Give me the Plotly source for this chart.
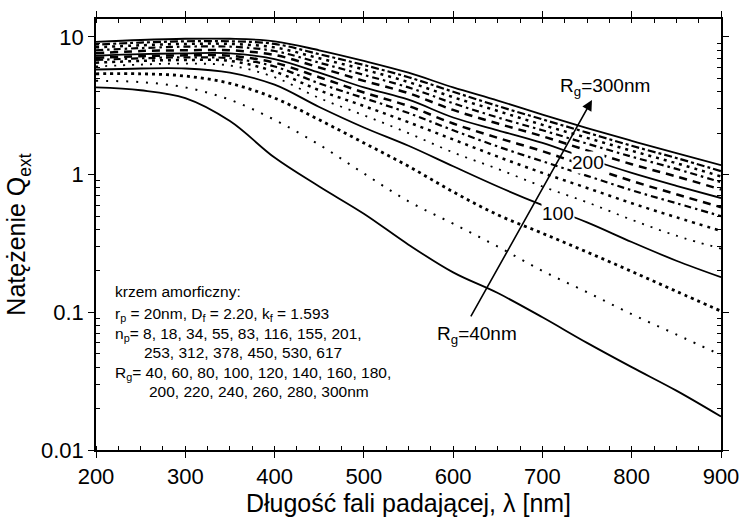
import math
import plotly.graph_objects as go

# Wavelength grid [nm]
wavelength = [200, 250, 300, 350, 400, 450, 500, 550, 600, 650, 700, 750, 800, 850, 900]

# Extinction efficiency Q_ext for aggregates of gyration radius R_g
q_rg040 = [4.3, 4.1, 3.6, 2.45, 1.33, 0.82, 0.52, 0.31, 0.195, 0.138, 0.092, 0.06, 0.04, 0.027, 0.0175]
q_rg060 = [4.8, 4.7, 4.3, 3.5, 2.5, 1.65, 1.02, 0.64, 0.44, 0.3, 0.2, 0.14, 0.097, 0.069, 0.049]
q_rg080 = [5.4, 5.4, 5.2, 4.6, 3.6, 2.5, 1.7, 1.15, 0.75, 0.51, 0.375, 0.274, 0.198, 0.142, 0.102]
q_rg100 = [5.8, 5.9, 5.9, 5.5, 4.5, 3.1, 2.2, 1.62, 1.15, 0.82, 0.6, 0.45, 0.324, 0.237, 0.18]
q_rg120 = [6.1, 6.3, 6.4, 6.2, 5.1, 3.6, 2.7, 2.0, 1.45, 1.1, 0.82, 0.63, 0.47, 0.36, 0.29]
q_rg140 = [6.5, 6.7, 6.8, 6.7, 5.6, 4.1, 3.15, 2.4, 1.8, 1.35, 1.03, 0.8, 0.62, 0.49, 0.39]
q_rg160 = [6.8, 7.0, 7.1, 7.0, 6.1, 4.6, 3.6, 2.8, 2.1, 1.6, 1.25, 0.98, 0.77, 0.62, 0.5]
q_rg180 = [7.05, 7.25, 7.35, 7.3, 6.5, 5.1, 3.95, 3.15, 2.35, 1.85, 1.48, 1.15, 0.9, 0.72, 0.58]
q_rg200 = [7.3, 7.5, 7.6, 7.6, 6.9, 5.5, 4.3, 3.5, 2.6, 2.1, 1.7, 1.31, 1.03, 0.83, 0.676]
q_rg220 = [7.6, 7.9, 8.0, 8.0, 7.4, 6.0, 4.8, 3.9, 2.95, 2.35, 1.9, 1.5, 1.19, 0.97, 0.78]
q_rg240 = [8.0, 8.3, 8.5, 8.5, 7.9, 6.5, 5.3, 4.3, 3.3, 2.6, 2.1, 1.68, 1.35, 1.1, 0.88]
q_rg260 = [8.4, 8.7, 8.9, 8.9, 8.4, 7.0, 5.8, 4.7, 3.65, 2.9, 2.3, 1.85, 1.49, 1.21, 0.97]
q_rg280 = [8.8, 9.1, 9.3, 9.3, 8.9, 7.5, 6.25, 5.1, 4.0, 3.15, 2.52, 2.02, 1.62, 1.32, 1.06]
q_rg300 = [9.2, 9.5, 9.7, 9.7, 9.3, 8.0, 6.7, 5.5, 4.3, 3.45, 2.73, 2.18, 1.76, 1.43, 1.17]

radii = [40, 60, 80, 100, 120, 140, 160, 180, 200, 220, 240, 260, 280, 300]
series = [q_rg040, q_rg060, q_rg080, q_rg100, q_rg120, q_rg140, q_rg160,
          q_rg180, q_rg200, q_rg220, q_rg240, q_rg260, q_rg280, q_rg300]

# (dash pattern, width) for each curve
styles = {
    40: ("solid", 1.8), 60: ("2px,8px", 2.0), 80: ("3px,4px", 2.8),
    100: ("solid", 1.8), 120: ("2px,7px", 1.8), 140: ("3px,5px", 2.5),
    160: ("7px,4px,2.5px,4px", 2.2), 180: ("8px,6px", 2.5), 200: ("solid", 1.8),
    220: ("8px,6px", 2.5), 240: ("7px,4px,2.5px,4px", 2.2), 260: ("3px,5px", 2.5),
    280: ("3px,3px,8px,3px", 2.2), 300: ("solid", 1.8),
}

x_ticks = [200, 300, 400, 500, 600, 700, 800, 900]
y_ticks = [0.01, 0.1, 1, 10]
y_tick_text = ["0.01", "0.1", "1", "10"]

fig = go.Figure()
for rg, q in zip(radii, series):
    dash, width = styles[rg]
    fig.add_trace(go.Scatter(
        x=wavelength, y=q, mode="lines", name=f"R_g={rg}nm",
        line=dict(color="black", width=width, dash=dash, shape="spline", smoothing=1.0),
        showlegend=False,
    ))

FONT = "Liberation Sans, Arial, sans-serif"
NARROW = "Liberation Sans Narrow, Arial Narrow, Liberation Sans, sans-serif"

L, R, T, B = 96, 19, 19, 73
W, H = 740, 523
PW, PH = W - L - R, H - T - B


def px(x, y):
    return (x - L) / PW, (H - B - y) / PH


annotations = []

# Parameter block
block = [
    ("krzem amorficzny:", 113, 292),
    ("r<sub>p</sub> = 20nm, D<sub>f</sub> = 2.20, k<sub>f</sub> = 1.593", 113, 314),
    ("n<sub>p</sub>= 8, 18, 34, 55, 83, 116, 155, 201,", 113, 334),
    ("253, 312, 378, 450, 530, 617", 142, 352),
    ("R<sub>g</sub>= 40, 60, 80, 100, 120, 140, 160, 180,", 113, 373),
    ("200, 220, 240, 260, 280, 300nm", 147, 391),
]
for text, x, y in block:
    xp, yp = px(x, y)
    annotations.append(dict(
        text=text, x=xp, y=yp, xref="paper", yref="paper",
        xanchor="left", yanchor="middle", showarrow=False,
        font=dict(family=NARROW, size=15.5, color="black"),
    ))

# Curve labels
labels = [
    ("R<sub>g</sub>=300nm", 605, 87, None),
    ("200", 588, 162, "white"),
    ("100", 558, 213, "white"),
    ("R<sub>g</sub>=40nm", 477, 335, None),
]
for text, x, y, bg in labels:
    xp, yp = px(x, y)
    ann = dict(
        text=text, x=xp, y=yp, xref="paper", yref="paper",
        xanchor="center", yanchor="middle", showarrow=False,
        font=dict(family=FONT, size=19, color="black"),
        borderpad=0,
    )
    if bg:
        ann["bgcolor"] = bg
    annotations.append(ann)

# Arrow showing growth of R_g
annotations.append(dict(
    x=755.5, y=math.log10(3.48), xref="x", yref="y",
    ax=618.9, ay=math.log10(0.091), axref="x", ayref="y",
    showarrow=True, arrowhead=2, arrowsize=1.3, arrowwidth=1.6,
    arrowcolor="black", text="", standoff=0, startstandoff=0,
))

minor_y = [m * 10 ** e for e in (-2, -1, 0, 1) for m in range(2, 10)]

fig.update_layout(
    width=W, height=H,
    margin=dict(l=L, r=R, t=T, b=B, autoexpand=False),
    paper_bgcolor="white", plot_bgcolor="white",
    font=dict(family=FONT, color="black"),
    annotations=annotations,
    xaxis=dict(
        range=[200, 900], tickvals=x_ticks, ticks="outside", ticklen=6,
        tickwidth=1.2, tickcolor="black", automargin=False,
        minor=dict(dtick=25, ticks="inside", ticklen=4, tickcolor="black", tickwidth=1),
        showline=True, linecolor="black", linewidth=1.5, mirror="allticks",
        showgrid=False, zeroline=False,
        tickfont=dict(size=22, family=FONT),
        title=dict(text="Długość fali padającej, λ [nm]", font=dict(size=25, family=FONT), standoff=6),
    ),
    yaxis=dict(
        type="log", range=[-2, math.log10(13.5)], tickvals=y_ticks, ticktext=y_tick_text,
        ticks="outside", ticklen=6, tickwidth=1.2, tickcolor="black", automargin=False,
        minor=dict(tickvals=minor_y, ticks="inside", ticklen=4, tickcolor="black", tickwidth=1),
        showline=True, linecolor="black", linewidth=1.5, mirror="allticks",
        showgrid=False, zeroline=False,
        tickfont=dict(size=22, family=FONT),
        title=dict(text="Natężenie Q<sub>ext</sub>", font=dict(size=25, family=FONT), standoff=8),
    ),
)

fig.write_html("out.html")
